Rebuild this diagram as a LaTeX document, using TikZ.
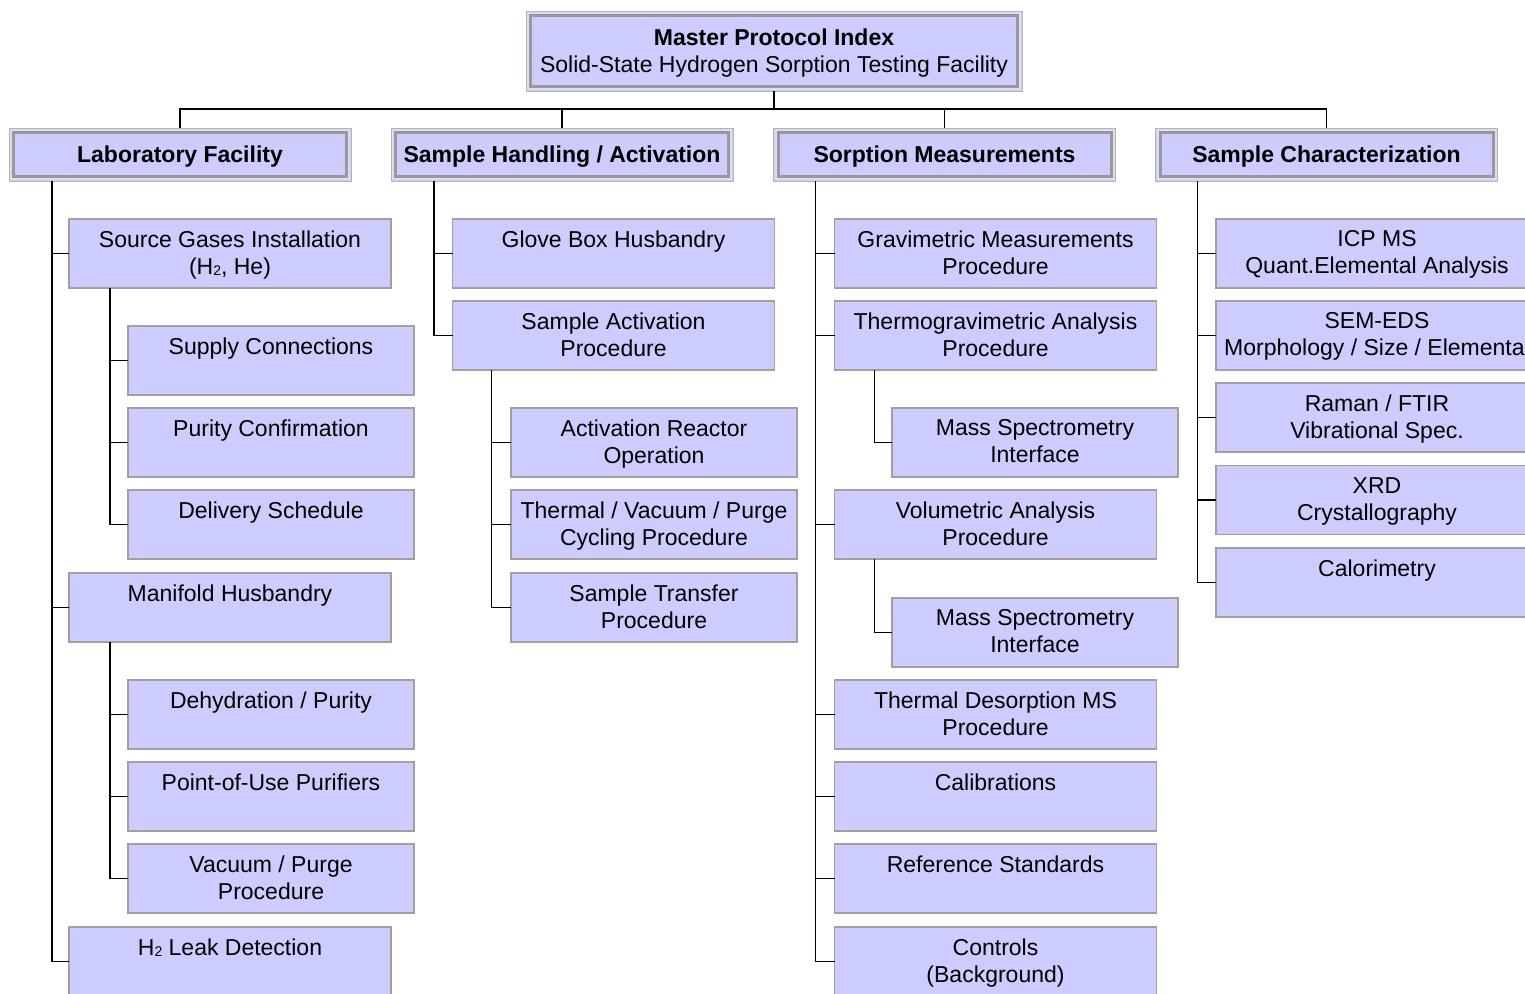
\documentclass[tikz,border=0pt]{standalone}
\usepackage{fontspec}
\setmainfont{Liberation Sans}
\definecolor{boxfill}{HTML}{CCCCFF}
\definecolor{boxline}{HTML}{A0A0A0}
\definecolor{hdrouter}{HTML}{B4B4B4}
\definecolor{hdrgap}{HTML}{DCDCF4}
\definecolor{hdrinner}{HTML}{999999}
\newcommand{\fs}{\fontsize{23}{27}\selectfont}
\newcommand{\bfs}{\fontsize{23}{27}\selectfont\bfseries}
\newcommand{\Htwo}{H\raisebox{-0.8pt}{\fontsize{14}{14}\selectfont 2}}
\tikzset{
  base/.style={inner sep=0pt, outer sep=0pt, fill=boxfill, draw=boxline, line width=1.2pt},
  lone/.style={base, minimum width=322pt, minimum height=69pt},
  ltwo/.style={base, minimum width=286pt, minimum height=69pt},
  lbl/.style={anchor=north, align=center, inner sep=0pt, yshift=-11.5pt, font=\fs},
  clbl/.style={anchor=center, align=center, inner sep=0pt, yshift=-1.8pt, font=\bfs},
  dbl/.style={base, draw=hdrouter, line width=1pt,
    path picture={
      \draw[hdrgap, line width=2pt] ([shift={(2pt,-2pt)}]path picture bounding box.north west) rectangle ([shift={(-2pt,2pt)}]path picture bounding box.south east);
      \draw[hdrinner, line width=3pt] ([shift={(4.5pt,-4.5pt)}]path picture bounding box.north west) rectangle ([shift={(-4.5pt,4.5pt)}]path picture bounding box.south east);
    }},
  hdr/.style={dbl, minimum width=342pt, minimum height=53pt},
  conn/.style={draw=black, line width=1.4pt}
}
\begin{document}
\begin{tikzpicture}[x=1pt, y=-1pt]
\useasboundingbox (0,0) rectangle (1525,993);
\clip (0,0) rectangle (1525,993);
\fill[white] (0,0) rectangle (1525,993);

% top
\node[dbl, minimum width=496pt, minimum height=80pt,
  label={[clbl]center:{Master Protocol Index\\{\mdseries Solid-State Hydrogen Sorption Testing Facility}}}] (top) at (774,51) {};

% headers
\node[hdr, label={[clbl]center:{Laboratory Facility}}] (h1) at (180,154.5) {};
\node[hdr, label={[clbl]center:{Sample Handling / Activation}}] (h2) at (562,154.5) {};
\node[hdr, label={[clbl]center:{Sorption Measurements}}] (h3) at (944.5,154.5) {};
\node[hdr, label={[clbl]center:{Sample Characterization}}] (h4) at (1326.5,154.5) {};

% column 1
\node[lone, label={[lbl]north:{Source Gases Installation\\(\Htwo, He)}}] (sg) at (230,253.5) {};
\node[ltwo, label={[lbl]north:{Supply Connections}}] (sc) at (271,360.5) {};
\node[ltwo, label={[lbl]north:{Purity Confirmation}}] (pc) at (271,442.5) {};
\node[ltwo, label={[lbl]north:{Delivery Schedule}}] (ds) at (271,524.5) {};
\node[lone, label={[lbl]north:{Manifold Husbandry}}] (mh) at (230,607.5) {};
\node[ltwo, label={[lbl]north:{Dehydration / Purity}}] (dp) at (271,714.5) {};
\node[ltwo, label={[lbl]north:{Point-of-Use Purifiers}}] (pu) at (271,796.5) {};
\node[ltwo, label={[lbl]north:{Vacuum / Purge\\Procedure}}] (vp) at (271,878.5) {};
\node[lone, label={[lbl]north:{\Htwo{} Leak Detection}}] (ld) at (230,961.5) {};

% column 2
\node[lone, label={[lbl]north:{Glove Box Husbandry}}] (gb) at (613.5,253.5) {};
\node[lone, label={[lbl]north:{Sample Activation\\Procedure}}] (sa) at (613.5,335.5) {};
\node[ltwo, label={[lbl]north:{Activation Reactor\\Operation}}] (ar) at (654,442.5) {};
\node[ltwo, label={[lbl]north:{Thermal / Vacuum / Purge\\Cycling Procedure}}] (tv) at (654,524.5) {};
\node[ltwo, label={[lbl]north:{Sample Transfer\\Procedure}}] (st) at (654,607.5) {};

% column 3
\node[lone, label={[lbl]north:{Gravimetric Measurements\\Procedure}}] (gm) at (995.5,253.5) {};
\node[lone, label={[lbl]north:{Thermogravimetric Analysis\\Procedure}}] (ta) at (995.5,335.5) {};
\node[ltwo, label={[lbl]north:{Mass Spectrometry\\Interface}}] (msa) at (1035,442.5) {};
\node[lone, label={[lbl]north:{Volumetric Analysis\\Procedure}}] (va) at (995.5,524.5) {};
\node[ltwo, label={[lbl]north:{Mass Spectrometry\\Interface}}] (msb) at (1035,632.5) {};
\node[lone, label={[lbl]north:{Thermal Desorption MS\\Procedure}}] (td) at (995.5,714.5) {};
\node[lone, label={[lbl]north:{Calibrations}}] (ca) at (995.5,796.5) {};
\node[lone, label={[lbl]north:{Reference Standards}}] (rs) at (995.5,878.5) {};
\node[lone, label={[lbl]north:{Controls\\(Background)}}] (co) at (995.5,961.5) {};

% column 4
\node[lone, label={[lbl]north:{ICP MS\\Quant.Elemental Analysis}}] (icp) at (1377,253.5) {};
\node[lone, label={[lbl]north:{SEM-EDS\\Morphology / Size / Elemental}}] (sem) at (1377,335.5) {};
\node[lone, label={[lbl]north:{Raman / FTIR\\Vibrational Spec.}}] (rf) at (1377,417.5) {};
\node[lone, label={[lbl]north:{XRD\\Crystallography}}] (xrd) at (1377,500) {};
\node[lone, label={[lbl]north:{Calorimetry}}] (cal) at (1377,582.5) {};

% connectors top
\foreach \h in {h1,h2,h3,h4}
  \draw[conn] (top.south) -- ++(0,18) -| (\h.north);

% column 1 connectors
\foreach \c in {sg,mh,ld}
  \draw[conn] ([xshift=43pt]h1.south west) |- (\c.west);
\foreach \c in {sc,pc,ds}
  \draw[conn] ([xshift=41pt]sg.south west) |- (\c.west);
\foreach \c in {dp,pu,vp}
  \draw[conn] ([xshift=41pt]mh.south west) |- (\c.west);

% column 2 connectors
\foreach \c in {gb,sa}
  \draw[conn] ([xshift=43pt]h2.south west) |- (\c.west);
\foreach \c in {ar,tv,st}
  \draw[conn] ([xshift=39pt]sa.south west) |- (\c.west);

% column 3 connectors
\foreach \c in {gm,ta,va,td,ca,rs,co}
  \draw[conn] ([xshift=42pt]h3.south west) |- (\c.west);
\draw[conn] ([xshift=40pt]ta.south west) |- (msa.west);
\draw[conn] ([xshift=40pt]va.south west) |- (msb.west);

% column 4 connectors
\foreach \c in {icp,sem,rf,xrd,cal}
  \draw[conn] ([xshift=42pt]h4.south west) |- (\c.west);
\end{tikzpicture}
\end{document}
